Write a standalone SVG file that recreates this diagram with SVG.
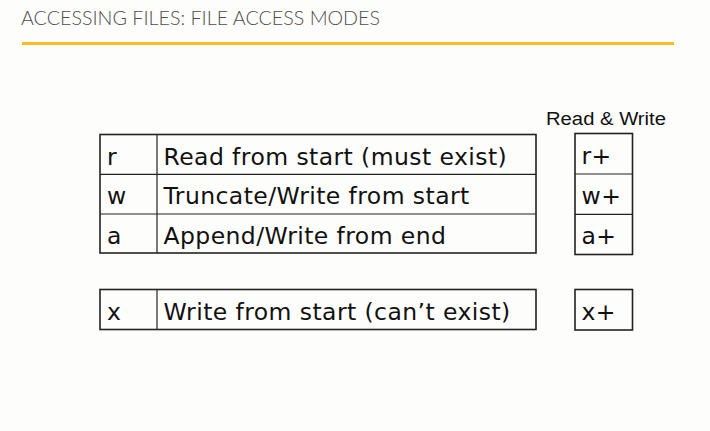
<svg xmlns="http://www.w3.org/2000/svg" width="710" height="431" viewBox="0 0 710 431">
  <style>
    .title { font-family: Lato, "Open Sans", "Liberation Sans", sans-serif; font-size: 19px; font-weight: 300; fill: #4d4d4d; }
    .cell { fill: none; stroke: #222222; stroke-width: 1.6; }
    .div { stroke: #222222; stroke-width: 1.2; }
    .t { font-family: "DejaVu Sans", Verdana, sans-serif; font-size: 23.5px; letter-spacing: 0.42px; fill: #111111; }
    .lab { font-family: "Liberation Sans", Arial, sans-serif; font-size: 18px; fill: #111111; }
  </style>
  <rect x="0" y="0" width="710" height="431" fill="#FDFDFB"/>
  <g id="header">
    <text class="title" x="21" y="24.5" textLength="359" lengthAdjust="spacingAndGlyphs">ACCESSING FILES: FILE ACCESS MODES</text>
    <line x1="22" y1="43.5" x2="674" y2="43.5" stroke="#F7BE1E" stroke-width="3"/>
  </g>
  <g id="modes-table">
    <rect class="cell" x="100" y="134.5" width="436" height="118.5"/>
    <line class="div" x1="100" y1="174.3" x2="536" y2="174.3"/>
    <line class="div" x1="100" y1="214" x2="536" y2="214"/>
    <line class="div" x1="157" y1="134.5" x2="157" y2="253"/>
    <text class="t" x="107" y="164.5">r</text>
    <text class="t" x="163.5" y="164.5">Read from start (must exist)</text>
    <text class="t" x="107" y="204">w</text>
    <text class="t" x="163.5" y="204">Truncate/Write from start</text>
    <text class="t" x="107" y="243.5">a</text>
    <text class="t" x="163.5" y="243.5">Append/Write from end</text>
  </g>
  <g id="x-table">
    <rect class="cell" x="100" y="289.5" width="436" height="40"/>
    <line class="div" x1="157" y1="289.5" x2="157" y2="329.5"/>
    <text class="t" x="107" y="319.5">x</text>
    <text class="t" x="163.5" y="319.5">Write from start (can’t exist)</text>
  </g>
  <g id="rw-label">
    <text class="lab" x="546" y="125" textLength="120" lengthAdjust="spacingAndGlyphs">Read &amp; Write</text>
  </g>
  <g id="rw-table">
    <rect class="cell" x="575" y="133.5" width="57.5" height="121"/>
    <line class="div" x1="575" y1="174" x2="632.5" y2="174"/>
    <line class="div" x1="575" y1="214.3" x2="632.5" y2="214.3"/>
    <text class="t" x="581.5" y="164">r+</text>
    <text class="t" x="581.5" y="204">w+</text>
    <text class="t" x="581.5" y="244">a+</text>
  </g>
  <g id="x-plus">
    <rect class="cell" x="575" y="289.5" width="57.5" height="40.5"/>
    <text class="t" x="581.5" y="320">x+</text>
  </g>
  <g id="connectors"></g>
</svg>
